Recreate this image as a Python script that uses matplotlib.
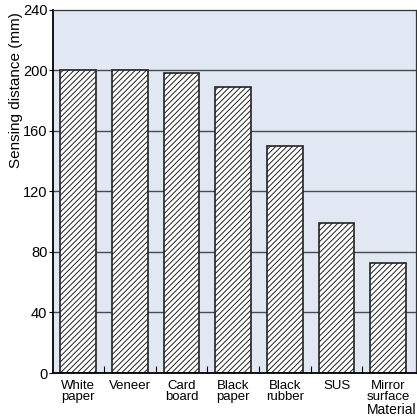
import numpy as np
import matplotlib.pyplot as plt

plt.rcParams['font.family'] = 'Liberation Sans'
plt.rcParams['hatch.linewidth'] = 0.7

materials = ["White\npaper", "Veneer", "Card\nboard", "Black\npaper",
             "Black\nrubber", "SUS", "Mirror\nsurface"]
distance = [200, 200, 198, 189, 150, 99, 73]
yticks = [0, 40, 80, 120, 160, 200, 240]

fig = plt.figure(figsize=(4.17, 4.17), dpi=100)
ax = fig.add_axes([0.127, 0.1055, 0.871, 0.871])
ax.set_facecolor('#e1e8f4')

x = np.arange(len(materials))
for yv in yticks[1:-1]:
    ax.axhline(yv, color='#4a4a4a', lw=1.0, zorder=1)
ax.bar(x, distance, width=0.69, color='white', edgecolor='#222222',
       hatch='//////', lw=1.2, zorder=2)

ax.set_xlim(-0.49, 6.54)
ax.set_ylim(0, 240)
ax.set_yticks(yticks)
ax.set_yticklabels([str(v) for v in yticks], fontsize=10.5)
ax.tick_params(axis='y', length=3, width=0.8, pad=1)
ax.set_xticks(x)
ax.set_xticklabels(materials, fontsize=9.5, linespacing=0.85)
ax.tick_params(axis='x', length=0, pad=5)
ax.set_xticks(x[:-1] + 0.5, minor=True)
ax.tick_params(axis='x', which='minor', direction='in', length=5, width=0.8)

for s in ['left', 'bottom']:
    ax.spines[s].set_linewidth(1.3)
    ax.spines[s].set_color('black')
for s in ['top', 'right']:
    ax.spines[s].set_linewidth(0.9)
    ax.spines[s].set_color('#333333')

fig.text(0.038, 0.972, "Sensing distance (mm)", rotation=90, ha='center',
         va='top', fontsize=11)
fig.text(0.998, 0.0, "Material", ha='right', va='bottom', fontsize=10)

fig.savefig('out.png', dpi=100)
